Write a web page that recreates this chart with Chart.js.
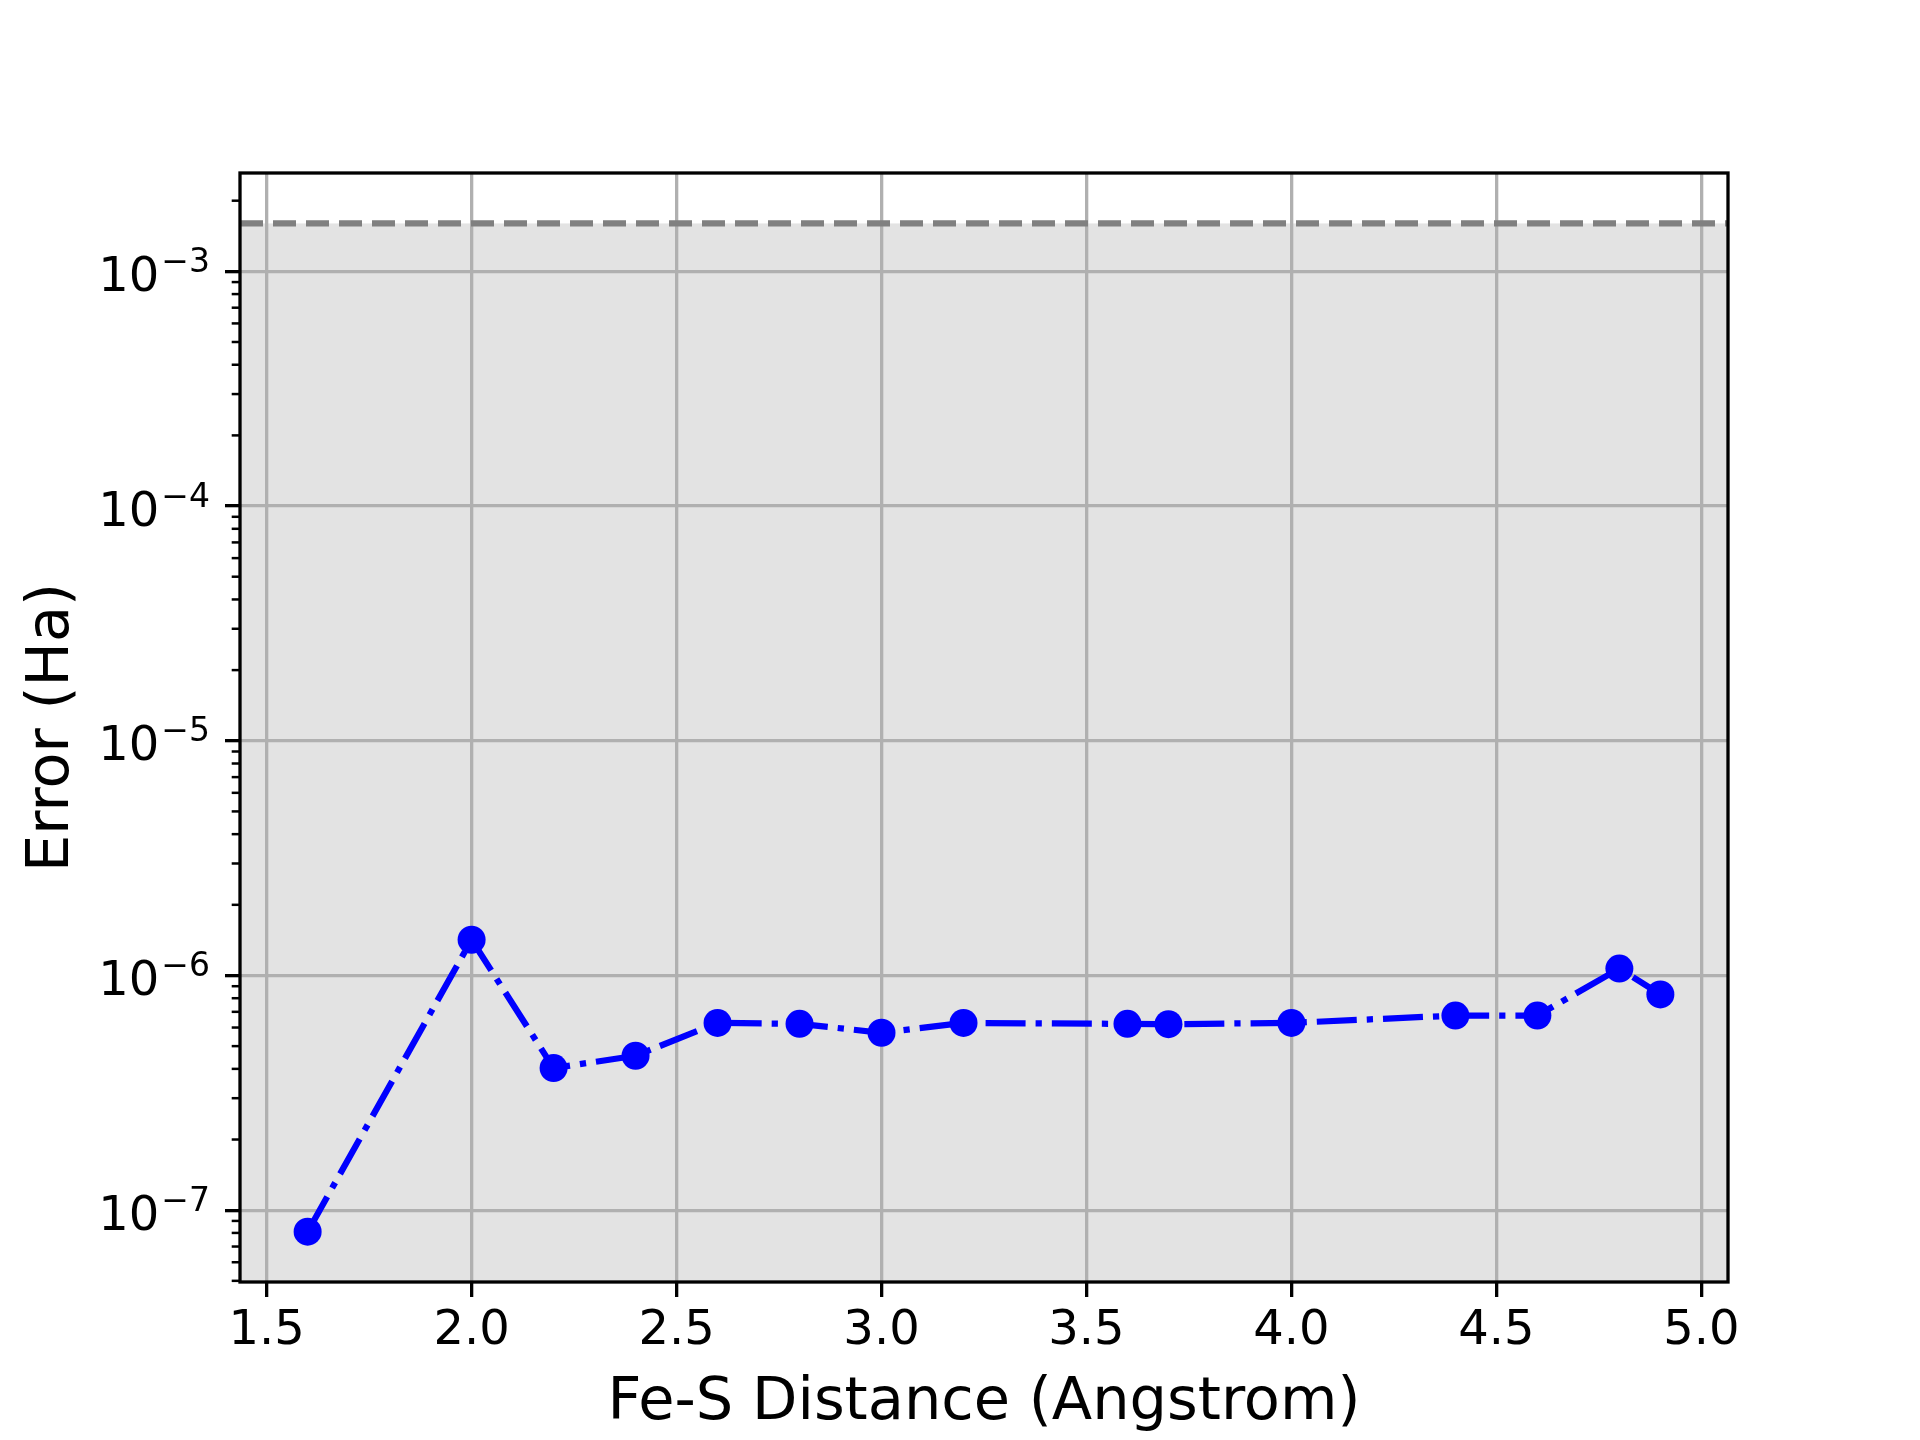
<!DOCTYPE html>
<html>
<head>
<meta charset="utf-8">
<script src="https://cdn.jsdelivr.net/npm/chart.js@4.4.0/dist/chart.umd.min.js"></script>
<style>
  html, body { margin: 0; padding: 0; background: #fff; }
  #wrap { width: 1920px; height: 1440px; }
</style>
</head>
<body>
<div id="wrap"><canvas id="errChart" width="1920" height="1440"></canvas></div>
<script>
// Fe-S distance (Angstrom) and the error of each point (Ha)
const distances = [1.6, 2.0, 2.2, 2.4, 2.6, 2.8, 3.0, 3.2, 3.6, 3.7, 4.0, 4.4, 4.6, 4.8, 4.9];
const errors = [8.1e-8, 1.42e-6, 4.03e-7, 4.55e-7, 6.28e-7, 6.22e-7, 5.7e-7, 6.28e-7,
                6.22e-7, 6.2e-7, 6.28e-7, 6.75e-7, 6.75e-7, 1.07e-6, 8.3e-7];

// axis ticks
const xTicks = [1.5, 2.0, 2.5, 3.0, 3.5, 4.0, 4.5, 5.0];
const yDecades = [1e-7, 1e-6, 1e-5, 1e-4, 1e-3];

// chemical accuracy threshold (Ha)
const chemAccuracy = 1.6e-3;

const FONT = "'DejaVu Sans'";

// draws the shaded band, threshold line, frame, minor ticks and 10^n labels
const decorPlugin = {
    id: 'decor',
    beforeDraw(chart) {
        const { ctx, chartArea: a } = chart;
        const y = chart.scales.y;
        ctx.save();
        ctx.fillStyle = '#ffffff';
        ctx.fillRect(0, 0, chart.width, chart.height);
        const yc = y.getPixelForValue(chemAccuracy);
        ctx.fillStyle = '#e3e3e3';
        ctx.fillRect(a.left, yc, a.right - a.left, a.bottom - yc);
        ctx.restore();
    },
    beforeDatasetsDraw(chart) {
        const { ctx, chartArea: a } = chart;
        const yc = chart.scales.y.getPixelForValue(chemAccuracy);
        ctx.save();
        ctx.strokeStyle = '#808080';
        ctx.lineWidth = 6.25;
        ctx.setLineDash([23, 10]);
        ctx.beginPath();
        ctx.moveTo(a.left, yc);
        ctx.lineTo(a.right, yc);
        ctx.stroke();
        ctx.restore();
    },
    afterDraw(chart) {
        const { ctx, chartArea: a } = chart;
        const y = chart.scales.y;
        ctx.save();

        // minor ticks on the log axis
        ctx.strokeStyle = '#000';
        ctx.lineWidth = 2.5;
        for (let n = -9; n <= -2; n++) {
            for (let k = 2; k <= 9; k++) {
                const v = k * Math.pow(10, n);
                if (v < y.min || v > y.max) continue;
                const py = y.getPixelForValue(v);
                ctx.beginPath();
                ctx.moveTo(a.left - 8.3, py);
                ctx.lineTo(a.left, py);
                ctx.stroke();
            }
        }

        // frame
        ctx.lineWidth = 3.3;
        ctx.strokeRect(a.left, a.top, a.right - a.left, a.bottom - a.top);

        // y tick labels with superscript exponents
        ctx.fillStyle = '#000';
        ctx.textBaseline = 'alphabetic';
        ctx.textAlign = 'right';
        const right = a.left - 30;
        for (const v of yDecades) {
            const py = y.getPixelForValue(v);
            const exp = '\u2212' + Math.abs(Math.round(Math.log10(v)));
            ctx.font = '33px ' + FONT;
            const ew = ctx.measureText(exp).width;
            ctx.fillText(exp, right, py + 0.7);
            ctx.font = '48px ' + FONT;
            ctx.fillText('10', right - ew - 2, py + 19.7);
        }
        ctx.restore();
    }
};

const canvas = document.getElementById('errChart');

new Chart(canvas.getContext('2d'), {
    type: 'line',
    data: {
        datasets: [{
            data: distances.map((d, i) => ({ x: d, y: errors[i] })),
            borderColor: '#0000ff',
            borderWidth: 6.25,
            borderDash: [40, 10, 6.25, 10],
            borderCapStyle: 'butt',
            borderJoinStyle: 'round',
            pointRadius: 14,
            pointBackgroundColor: '#0000ff',
            pointBorderWidth: 0,
            tension: 0,
            fill: false,
            clip: false
        }]
    },
    options: {
        responsive: false,
        animation: false,
        events: [],
        layout: { padding: { top: 173, right: 192, left: 0, bottom: 0 } },
        plugins: {
            legend: { display: false },
            tooltip: { enabled: false }
        },
        scales: {
            x: {
                type: 'linear',
                min: 1.435,
                max: 5.065,
                afterBuildTicks: (scale) => { scale.ticks = xTicks.map(v => ({ value: v })); },
                afterFit: (scale) => { scale.height = 158; },
                border: { display: false },
                grid: {
                    color: '#b0b0b0',
                    lineWidth: 3.3,
                    tickColor: '#000',
                    tickWidth: 3.3,
                    tickLength: 15
                },
                ticks: {
                    color: '#000',
                    font: { family: FONT, size: 48 },
                    padding: 6,
                    maxRotation: 0,
                    callback: (v) => Number(v).toFixed(1)
                },
                title: {
                    display: true,
                    text: 'Fe-S Distance (Angstrom)',
                    color: '#000',
                    font: { family: FONT, size: 59 },
                    padding: { top: 0, bottom: 1 }
                }
            },
            y: {
                type: 'logarithmic',
                min: Math.pow(10, -7.306),
                max: Math.pow(10, -2.581),
                afterBuildTicks: (scale) => { scale.ticks = yDecades.map(v => ({ value: v })); },
                afterFit: (scale) => { scale.width = 240; },
                border: { display: false },
                grid: {
                    color: '#b0b0b0',
                    lineWidth: 3.3,
                    tickColor: '#000',
                    tickWidth: 3.3,
                    tickLength: 15
                },
                ticks: { display: false },
                title: {
                    display: true,
                    text: 'Error (Ha)',
                    color: '#000',
                    font: { family: FONT, size: 59 },
                    padding: { top: 17, bottom: 0 }
                }
            }
        }
    },
    plugins: [decorPlugin]
});
</script>
</body>
</html>
